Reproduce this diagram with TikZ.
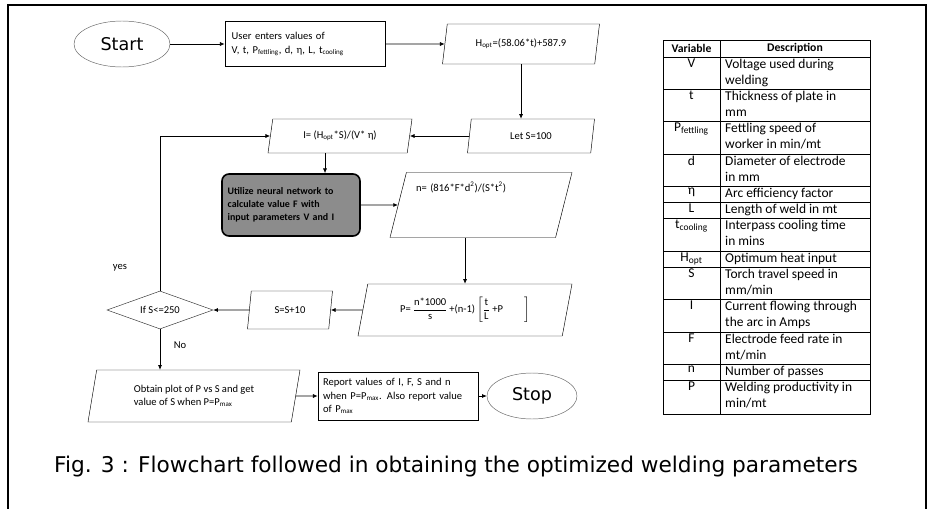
\documentclass[tikz,border=0pt]{standalone}
\usepackage{fontspec}
\usepackage{amsmath}
\setmainfont{Carlito}
\newfontfamily\capfont{DejaVu Sans}
\usetikzlibrary{shapes.geometric,arrows.meta,calc}
\tikzstyle{io}=[trapezium, trapezium left angle=72, trapezium right angle=108, trapezium stretches body, draw=black, inner sep=2pt, align=left, font=\fontsize{9}{11.5}\selectfont]
\tikzstyle{proc}=[rectangle, draw=black, semithick, inner sep=3pt, align=left, font=\fontsize{9}{11.5}\selectfont]
\tikzstyle{term}=[ellipse, draw=black!60, inner sep=0pt, font=\capfont\fontsize{15}{17}\selectfont]
\tikzstyle{decide}=[diamond, draw=black!80, inner sep=0pt, font=\fontsize{9}{11.5}\selectfont]
\tikzstyle{arr}=[-{Latex[length=4pt,width=3.5pt]}, semithick]
\tikzstyle{annot}=[align=center, font=\fontsize{9}{11.5}\selectfont]
\tikzstyle{cell}=[align=left, inner sep=0pt, font=\fontsize{11.5}{13.8}\selectfont]

\begin{document}
\begin{tikzpicture}
  \useasboundingbox (0,0) rectangle (27.9,-15.27);
  % frame
  \draw[line width=1.2pt] (0.24,-15.27) -- (0.24,-0.15) -- (27.78,-0.15) -- (27.78,-15.27);

  % flowchart
  \node[term, minimum width=2.88cm, minimum height=1.38cm](start) at (3.66,-1.32){Start};
  \node[proc, minimum width=4.8cm, minimum height=1.35cm, text width=4.4cm](user) at (9.15,-1.32)
    {User enters values of\\ V, t, P\textsubscript{fettling}, d, η, L, t\textsubscript{cooling}};
  \node[io, minimum width=4.71cm, minimum height=1.2cm](hopt) at (15.63,-1.32)
    {H\textsubscript{opt}=(58.06*t)+587.9};
  \node[io, minimum width=3.81cm, minimum height=1.02cm](lets) at (15.93,-4.08){Let S=100};
  \node[io, minimum width=4.32cm, minimum height=1.02cm](icur) at (10.2,-4.08)
    {I= (H\textsubscript{opt}*S)/(V* η)};
  \node[proc, fill=black!45, line width=1.4pt, rounded corners=6pt, minimum width=4.14cm, minimum height=1.86cm,
    text width=3.8cm, font=\bfseries\fontsize{8.5}{11}\selectfont](neural) at (8.73,-6.15)
    {Utilize neural network to\\ calculate value F with\\ input parameters V and I};
  \node[io, minimum width=5.46cm, minimum height=1.95cm, text width=3.9cm](npass) at (14.43,-6.15)
    {n= (816*F*d\textsuperscript{2})/(S*t\textsuperscript{2})\\[0.7cm]\mbox{}};
  \node[io, minimum width=6.42cm, minimum height=1.56cm](prod) at (13.95,-9.3)
    {$\text{P=}\,\dfrac{\text{n*1000}}{\text{s}}\,\text{+(n-1)}\left[\dfrac{\text{t}}{\text{L}}\ \text{+P}\qquad\right]$};
  \node[io, minimum width=2.55cm, minimum height=1.14cm](sinc) at (8.7,-9.3){S=S+10};
  \node[decide, aspect=2.8, minimum width=3.18cm, minimum height=1.14cm](check) at (4.8,-9.3){If S<=250};
  \node[io, minimum width=6.36cm, minimum height=1.56cm](plot) at (5.82,-11.88)
    {Obtain plot of P vs S and get\\ value of S when P=P\textsubscript{max}};
  \node[proc, minimum width=4.8cm, minimum height=1.44cm, text width=4.5cm](report) at (11.94,-11.88)
    {Report values of I, F, S and n\\ when P=P\textsubscript{max}. Also report value\\ of P\textsubscript{max}};
  \node[term, minimum width=2.7cm, minimum height=1.38cm](stop) at (15.96,-11.88){Stop};

  \node[annot](yes) at (3.6,-8.04){yes};
  \node[annot](no) at (5.4,-10.35){No};

  \draw[arr] (start) -- (user);
  \draw[arr] (user) -- (hopt);
  \draw[arr] (hopt.south) -- (hopt.south |- lets.north);
  \draw[arr] (lets) -- (icur);
  \draw[arr] ([xshift=-0.45cm]icur.south) -- ([xshift=-0.45cm]icur.south |- neural.north);
  \draw[arr] (neural) -- (npass);
  \draw[arr] (prod.north |- npass.south) -- (prod.north);
  \draw[arr] (prod) -- (sinc);
  \draw[arr] (sinc) -- (check);
  \draw[arr] (check.north) |- (icur.west);
  \draw[arr] (check.south) -- (check.south |- plot.north);
  \draw[arr] (plot) -- (report);
  \draw[arr] (report) -- (stop);

  % table of variables
  \draw (19.89,-1.20) rectangle (26.1,-1.71);
  \draw (21.6,-1.20) -- (21.6,-1.71);
  \node[cell, font=\bfseries\fontsize{10}{12}\selectfont](hvar) at (20.745,-1.455){Variable};
  \node[cell, font=\bfseries\fontsize{10}{12}\selectfont](hdesc) at (23.85,-1.455){Description};
  \foreach \ya/\yb/\var/\desc [count=\k] in {
    1.71/2.67/V/{Voltage used during\\welding},
    2.67/3.63/t/{Thickness of plate in\\mm},
    3.63/4.62/{P\textsubscript{fettling}}/{Fettling speed of\\worker in min/mt},
    4.62/5.58/d/{Diameter of electrode\\in mm},
    5.58/6.06/η/{Arc efficiency factor},
    6.06/6.54/L/{Length of weld in mt},
    6.54/7.53/{t\textsubscript{cooling}}/{Interpass cooling time\\in mins},
    7.53/8.01/{H\textsubscript{opt}}/{Optimum heat input},
    8.01/8.97/S/{Torch travel speed in\\mm/min},
    8.97/9.96/I/{Current flowing through\\the arc in Amps},
    9.96/10.92/F/{Electrode feed rate in\\mt/min},
    10.92/11.40/n/{Number of passes},
    11.40/12.42/P/{Welding productivity in\\min/mt}}
  {
    \draw (19.89,-\ya) rectangle (26.1,-\yb);
    \draw (21.6,-\ya) -- (21.6,-\yb);
    \node[cell, anchor=north](var\k) at (20.745,-\ya-0.06){\var};
    \node[cell, anchor=north west](desc\k) at (21.75,-\ya-0.06){\desc};
  }

  % caption
  \node[font=\capfont\fontsize{18.5}{22}\selectfont](caption) at (13.68,-14.01)
    {Fig. 3 : Flowchart followed in obtaining the optimized welding parameters};
\end{tikzpicture}
\end{document}
